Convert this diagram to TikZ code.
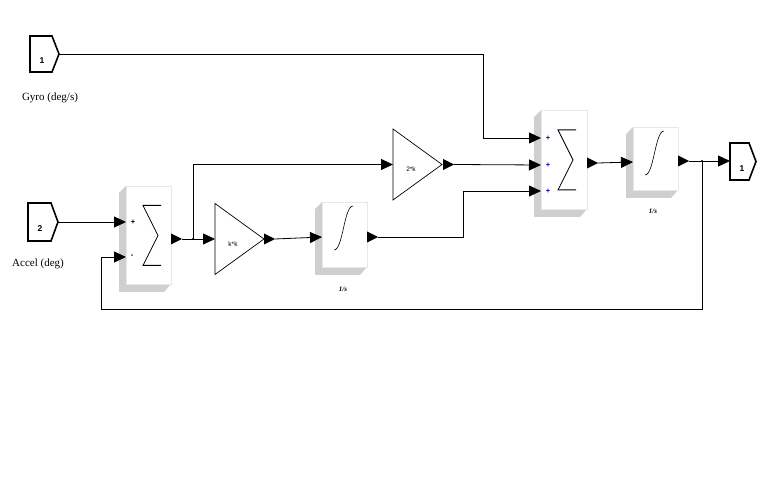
\documentclass[tikz,border=0pt]{standalone}
\usepackage{fontspec}
\setmainfont{Liberation Serif}
\setsansfont{Liberation Sans}
\usetikzlibrary{arrows.meta}
\usetikzlibrary{calc}
\tikzset{
  wire/.style={draw=black, line width=0.8pt},
  feed/.style={wire, -{Triangle[length=12pt,width=11pt]}},
  face/.style={draw=gray!18, fill=white, line width=0.8pt, inner sep=0},
  extrude/.style={fill=gray!38},
  portbox/.style={draw=black, line width=1.6pt, fill=white},
  gainbox/.style={draw=black, line width=0.7pt},
  portnum/.style={font=\sffamily\bfseries\fontsize{8.5}{8.5}\selectfont, inner sep=0},
  gaintext/.style={font=\sffamily\fontsize{6.5}{6.5}\selectfont, inner sep=0},
  sign/.style={font=\sffamily\bfseries\fontsize{7.5}{7.5}\selectfont, inner sep=0},
  blocktitle/.style={font=\bfseries\itshape\fontsize{7}{7}\selectfont, inner sep=0},
  caption/.style={font=\fontsize{11}{11}\selectfont, inner sep=0},
  junction/.style={circle, fill=black, inner sep=0, minimum size=2.2pt},
}
\newcommand\Port[6]{% name, left, top, height, width, number
  \draw[portbox] (#2,#3) -- ++(#5-7,0) -- ++(7,#4/2) -- ++(-7,#4/2) -- ++(-#5+7,0) -- cycle;
  \node (#1) [portnum] at (#2+12,#3+#4/2+7) {#6};
  \coordinate (#1-tip) at (#2+#5,#3+#4/2);
}
\newcommand\Block[5]{% name, left, top, width, height
  \fill[extrude] (#2,#3) -- ++(-7,7) -- ++(0,#5+1) -- ++(#4,0) -- ++(7,-8) -- cycle;
  \node (#1) [face, minimum width=#4pt, minimum height=#5pt, anchor=north west] at (#2,#3) {};
}
\newcommand\SumSign[1]{%
  \draw[line width=0.8pt] ($(#1.west)+(35,-30)$) -- ($(#1.west)+(17,-30)$)
    -- ($(#1.west)+(32,0)$) -- ($(#1.west)+(17,30)$) -- ($(#1.west)+(35,30)$);
}
\newcommand\IntSign[1]{%
  \draw[line width=0.6pt] ($(#1.north west)+(12,48)$)
    .. controls ($(#1.north west)+(21,48)$) and ($(#1.north west)+(22,4)$) .. ($(#1.north west)+(31,4)$);
}
\newcommand\OutTip[3]{% name, x, y
  \fill (#2,#3-5.5) -- (#2+11,#3) -- (#2,#3+5.5) -- cycle;
  \coordinate (#1) at (#2+11,#3);
}
\newcommand\Gain[4]{% name, left, mid y, label
  \draw[gainbox] (#2,#3-35.5) -- (#2+49,#3) -- (#2,#3+35.5) -- cycle;
  \node (#1) [gaintext] at (#2+18,#3+5) {#4};
  \coordinate (#1-in) at (#2,#3);
}
\begin{document}
\begin{tikzpicture}[x=1pt,y=-1pt]
  \useasboundingbox (0,0) rectangle (769,481);
  % inports and outport
  \Port{gyro}{30}{36}{36}{29}{1}
  \node (gyro-name) [caption] at (50,98) {Gyro (deg/s)};
  \Port{accel}{28}{203}{38}{30}{2}
  \node (accel-name) [caption] at (38,264) {Accel (deg)};
  \Port{angle}{730}{143}{37}{26}{1}
  \coordinate (angle-in) at (730,161);
  % first sum
  \Block{sumA}{126}{186}{45}{98}
  \SumSign{sumA}
  \node (sumA-p) [sign] at (133,222) {+};
  \node (sumA-m) [sign] at (132,256) {-};
  \coordinate (sumA-in1) at (126,222);
  \coordinate (sumA-in2) at (126,257);
  \OutTip{sumA-out}{171}{239}
  % gains
  \Gain{kk}{215}{239}{k*k}
  \OutTip{kk-out}{264}{239}
  \Gain{twok}{393}{164.5}{2*k}
  \OutTip{twok-out}{443}{164.5}
  % first integrator
  \Block{intA}{322}{202}{45}{65}
  \IntSign{intA}
  \node (intA-name) [blocktitle] at (343,289) {1/s};
  \coordinate (intA-in) at (322,237);
  \OutTip{intA-out}{367}{237}
  % second sum
  \Block{sumB}{541}{110}{46}{99}
  \SumSign{sumB}
  \foreach \y [count=\i] in {138,165,191} {
    \node (sumB-p\i) [sign, text=blue!70!black] at (548,\y) {+};
    \coordinate (sumB-in\i) at (541,\y);
  }
  \OutTip{sumB-out}{587}{163}
  % second integrator
  \Block{intB}{633}{127}{45}{63}
  \IntSign{intB}
  \node (intB-name) [blocktitle] at (653,211) {1/s};
  \coordinate (intB-in) at (633,162);
  \OutTip{intB-out}{678}{161}
  % bends and branch points
  \coordinate (gyro-bend) at (483,138);
  \coordinate (mix-bend) at (463,191);
  \node (split-A) [junction] at (193,239) {};
  \node (split-B) [junction] at (702,161) {};
  \coordinate (loop-corner) at (101,309);
  % connectors
  \draw[feed] (gyro-tip) -| (gyro-bend) -- (sumB-in1);
  \draw[feed] (accel-tip) -- (sumA-in1);
  \draw[feed] (sumA-out) -- (kk-in);
  \draw[feed] (split-A.center) |- (twok-in);
  \draw[feed] (kk-out) -- (intA-in);
  \draw[feed] (twok-out) -- (sumB-in2);
  \draw[feed] (intA-out) -| (mix-bend) -- (sumB-in3);
  \draw[feed] (sumB-out) -- (intB-in);
  \draw[feed] (intB-out) -- (angle-in);
  \draw[feed] (split-B.center) |- (loop-corner) |- (sumA-in2);
\end{tikzpicture}
\end{document}
